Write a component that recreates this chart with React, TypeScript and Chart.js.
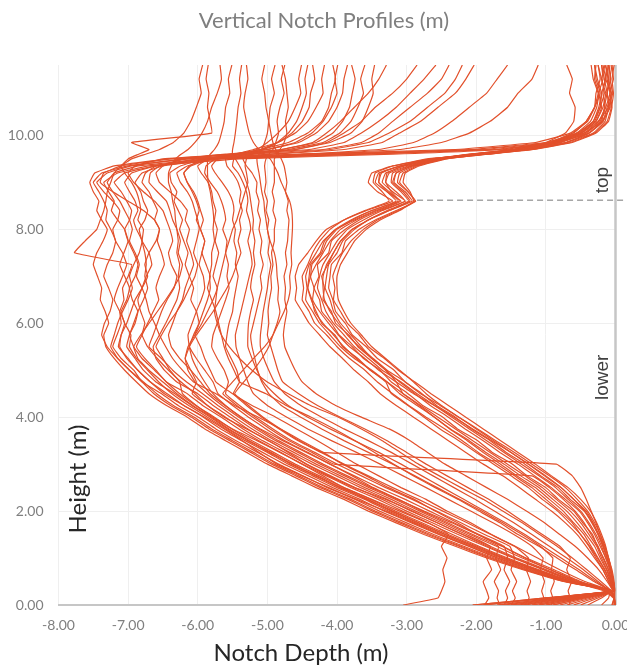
import React, { useEffect, useRef } from "react";
import { Chart, registerables } from "chart.js";

Chart.register(...registerables);

// Shared measurement heights (m), top to bottom
const HEIGHTS = [
  11.5, 11.2, 10.9, 10.6, 10.3, 10.05, 9.85, 9.7, 9.6, 9.5,
  9.35, 9.2, 9.0, 8.8, 8.6, 8.4, 8.2, 8.0, 7.75, 7.5,
  7.25, 7.0, 6.75, 6.5, 6.25, 6.0, 5.75, 5.5, 5.25, 5.0,
  4.75, 4.5, 4.25, 4.0, 3.75, 3.5, 3.25, 3.0, 2.75, 2.5,
  2.25, 2.0, 1.75, 1.5, 1.25, 1.0, 0.75, 0.5, 0.3, 0.15, 0.0,
];

// Notch depth (m) of each profile at the heights above
const A01 = [-0.25, -0.2, -0.16, -0.22, -0.32, -0.55, -1.0, -2.1, -4.2, -6.4, -7.2, -7.48, -7.55, -7.5, -7.42, -7.45, -7.38, -7.3, -7.36, -7.45, -7.5, -7.44, -7.38, -7.4, -7.33, -7.28, -7.35, -7.32, -7.2, -7.05, -6.88, -6.7, -6.45, -6.15, -5.9, -5.6, -5.3, -5.0, -4.65, -4.3, -3.9, -3.55, -3.15, -2.75, -2.3, -1.85, -1.33, -0.75, -0.06, -0.6, -1.2];
const A02 = [-0.15, -0.1, -0.12, -0.08, -0.2, -0.45, -0.95, -1.9, -3.9, -6.1, -7.0, -7.38, -7.5, -7.42, -7.35, -7.3, -7.32, -7.25, -7.18, -7.22, -7.3, -7.35, -7.28, -7.22, -7.26, -7.34, -7.38, -7.3, -7.15, -6.98, -6.78, -6.59, -6.35, -6.05, -5.8, -5.5, -5.2, -4.9, -4.55, -4.2, -3.8, -3.45, -3.06, -2.66, -2.22, -1.78, -1.28, -0.72, -0.06, -0.95, -1.9];
const A03 = [-0.3, -0.28, -0.22, -0.3, -0.42, -0.65, -1.15, -2.3, -4.5, -6.2, -6.95, -7.3, -7.45, -7.35, -7.22, -7.12, -7.15, -7.22, -7.18, -7.08, -7.02, -7.08, -7.15, -7.2, -7.12, -7.05, -7.1, -7.14, -7.0, -6.86, -6.68, -6.48, -6.2, -5.9, -5.62, -5.36, -5.12, -4.86, -4.5, -4.12, -3.72, -3.3, -2.9, -2.52, -2.1, -1.7, -1.22, -0.7, -0.06, -0.3, -0.6];
const A04 = [-0.1, -0.14, -0.06, -0.12, -0.18, -0.38, -0.85, -1.7, -3.6, -5.6, -6.7, -7.15, -7.35, -7.28, -7.2, -7.24, -7.15, -7.05, -7.0, -7.06, -7.12, -7.05, -6.98, -7.02, -7.1, -7.05, -6.96, -6.98, -6.88, -6.72, -6.56, -6.37, -6.13, -5.86, -5.6, -5.32, -5.0, -4.7, -4.35, -4.0, -3.6, -3.26, -2.87, -2.49, -2.07, -1.65, -1.17, -0.67, -0.06, -0.75, -1.5];
const A05 = [-0.7, -0.62, -0.66, -0.58, -0.6, -0.72, -1.0, -1.6, -3.2, -5.4, -6.6, -7.05, -7.2, -7.1, -7.02, -6.95, -6.98, -7.05, -7.0, -6.92, -6.86, -6.9, -6.98, -6.94, -6.86, -6.9, -6.98, -6.92, -6.8, -6.62, -6.45, -6.26, -6.03, -5.76, -5.51, -5.22, -4.91, -4.6, -4.25, -3.9, -3.51, -3.16, -2.78, -2.4, -1.99, -1.58, -1.12, -0.64, -0.16, -0.03, -0.01];
const A06 = [-1.11, -1.2, -1.4, -1.55, -1.8, -2.1, -2.5, -3.1, -4.4, -5.9, -6.6, -6.95, -7.05, -6.98, -6.9, -6.86, -6.92, -6.88, -6.8, -6.84, -6.92, -6.98, -6.94, -7.0, -7.08, -7.15, -7.2, -7.25, -7.15, -6.98, -6.8, -6.52, -6.28, -5.99, -5.74, -5.45, -5.14, -4.84, -4.49, -4.14, -3.74, -3.39, -3.0, -2.61, -2.18, -1.74, -1.25, -0.72, -0.06, -1.0, -2.05];
const A07 = [-1.55, -1.7, -1.85, -2.1, -2.35, -2.6, -2.9, -3.4, -4.5, -5.8, -6.5, -6.8, -6.9, -6.82, -6.78, -6.72, -6.76, -6.84, -6.8, -6.7, -6.66, -6.74, -6.8, -6.86, -6.82, -6.76, -6.8, -6.72, -6.58, -6.42, -6.24, -6.04, -5.86, -5.62, -5.3, -4.98, -4.7, -4.44, -4.12, -3.75, -3.3, -2.92, -2.56, -2.2, -1.84, -1.45, -1.02, -0.58, -0.14, -0.02, -0.05];
const A08 = [-2.03, -2.15, -2.3, -2.55, -2.8, -3.1, -3.35, -3.9, -4.9, -6.0, -6.6, -6.75, -6.8, -6.7, -6.64, -6.58, -6.62, -6.55, -6.6, -6.7, -6.76, -6.72, -6.8, -6.9, -6.96, -7.02, -7.1, -7.12, -7.02, -6.86, -6.68, -6.44, -6.2, -5.92, -5.67, -5.37, -5.07, -4.76, -4.41, -4.06, -3.67, -3.32, -2.93, -2.54, -2.11, -1.69, -1.2, -0.69, -0.06, -0.45, -0.9];
const A09 = [-2.39, -2.5, -2.7, -2.95, -3.2, -3.4, -3.65, -4.2, -5.3, -6.4, -7.1, -7.35, -7.4, -7.22, -7.0, -6.78, -6.62, -6.55, -6.58, -6.52, -6.48, -6.55, -6.6, -6.56, -6.64, -6.72, -6.8, -6.88, -6.76, -6.6, -6.45, -6.15, -5.93, -5.66, -5.41, -5.12, -4.81, -4.5, -4.15, -3.8, -3.41, -3.06, -2.69, -2.4, -2.5, -2.42, -2.48, -2.45, -2.5, -2.55, -3.05];
const A10 = [-2.58, -2.75, -2.95, -3.15, -3.4, -3.65, -3.9, -4.4, -5.5, -6.5, -6.9, -7.0, -6.92, -6.78, -6.62, -6.5, -6.45, -6.4, -6.36, -6.42, -6.38, -6.3, -6.34, -6.44, -6.52, -6.58, -6.64, -6.7, -6.52, -6.36, -6.16, -5.93, -5.71, -5.47, -5.22, -4.94, -4.62, -4.3, -3.95, -3.6, -3.22, -2.87, -2.5, -2.14, -1.8, -1.85, -1.78, -1.9, -1.85, -1.82, -1.88];
const A11 = [-2.85, -3.0, -3.2, -3.45, -3.65, -3.9, -4.15, -4.6, -5.5, -6.2, -6.55, -6.68, -6.7, -6.58, -6.45, -6.4, -6.36, -6.3, -6.25, -6.28, -6.22, -6.26, -6.35, -6.46, -6.58, -6.7, -6.82, -6.92, -6.86, -6.7, -6.5, -6.3, -6.07, -5.8, -5.55, -5.26, -4.95, -4.64, -4.29, -3.94, -3.55, -3.2, -2.82, -2.44, -2.02, -1.61, -1.14, -0.66, -0.06, -0.85, -1.7];
const A12 = [-3.29, -3.4, -3.55, -3.75, -3.95, -4.15, -4.35, -4.8, -5.6, -6.2, -6.5, -6.6, -6.55, -6.4, -6.25, -6.15, -6.18, -6.12, -6.16, -6.1, -6.06, -6.12, -6.18, -6.22, -6.3, -6.36, -6.42, -6.38, -6.26, -6.1, -5.96, -5.82, -5.61, -5.37, -5.12, -4.84, -4.52, -4.2, -3.85, -3.5, -3.12, -2.77, -2.41, -2.05, -1.68, -1.72, -1.65, -1.74, -1.68, -1.7, -1.66];
const A13 = [-3.46, -3.5, -3.48, -3.55, -3.64, -3.8, -4.1, -4.6, -5.2, -5.8, -6.15, -6.3, -6.25, -6.15, -6.08, -6.04, -6.0, -5.98, -6.02, -6.06, -6.0, -6.04, -6.12, -6.2, -6.3, -6.42, -6.52, -6.6, -6.5, -6.4, -6.26, -6.22, -6.02, -5.78, -5.5, -5.15, -4.82, -4.5, -4.2, -3.9, -3.5, -3.1, -2.7, -2.34, -1.96, -1.55, -1.1, -0.63, -0.06, -0.2, -0.4];
const A14 = [-3.79, -3.74, -3.78, -3.82, -3.92, -4.06, -4.3, -4.8, -5.4, -5.9, -6.12, -6.2, -6.15, -6.06, -6.0, -5.96, -5.92, -5.96, -5.9, -5.94, -5.98, -5.92, -5.9, -5.95, -6.02, -6.08, -6.14, -6.12, -6.02, -5.9, -5.78, -5.71, -5.5, -5.27, -5.02, -4.75, -4.42, -4.1, -3.75, -3.4, -3.02, -2.67, -2.32, -1.96, -1.6, -1.55, -1.6, -1.52, -1.58, -1.55, -1.6];
const A15 = [-3.85, -3.9, -3.92, -4.0, -4.12, -4.3, -4.55, -5.0, -5.5, -5.85, -6.0, -5.95, -5.85, -5.8, -5.78, -5.74, -5.76, -5.72, -5.75, -5.7, -5.74, -5.78, -5.72, -5.78, -5.86, -5.94, -6.04, -6.14, -6.18, -6.1, -6.02, -6.08, -5.86, -5.6, -5.35, -5.07, -4.75, -4.44, -4.09, -3.74, -3.35, -3.0, -2.63, -2.26, -1.87, -1.47, -1.04, -0.6, -0.06, -0.5, -1.0];
const A16 = [-3.99, -4.03, -4.0, -4.08, -4.2, -4.36, -4.6, -5.0, -5.45, -5.75, -5.88, -5.9, -5.82, -5.72, -5.66, -5.62, -5.6, -5.64, -5.58, -5.6, -5.56, -5.58, -5.55, -5.6, -5.66, -5.72, -5.78, -5.8, -5.72, -5.62, -5.56, -5.6, -5.4, -5.17, -4.92, -4.65, -4.32, -4.0, -3.65, -3.3, -2.92, -2.57, -2.22, -1.88, -1.52, -1.45, -1.5, -1.42, -1.48, -1.44, -1.5];
const A17 = [-4.06, -4.02, -4.08, -4.12, -4.22, -4.42, -4.7, -5.1, -5.5, -5.72, -5.8, -5.75, -5.65, -5.56, -5.5, -5.48, -5.5, -5.46, -5.48, -5.44, -5.46, -5.42, -5.45, -5.48, -5.5, -5.55, -5.58, -5.6, -5.52, -5.44, -5.4, -5.49, -5.3, -5.08, -4.83, -4.56, -4.23, -3.9, -3.55, -3.2, -2.83, -2.48, -2.13, -1.79, -1.45, -1.25, -1.28, -1.22, -1.27, -1.24, -1.3];
const A18 = [-4.18, -4.22, -4.2, -4.3, -4.42, -4.6, -4.85, -5.2, -5.45, -5.6, -5.58, -5.5, -5.42, -5.38, -5.4, -5.36, -5.4, -5.38, -5.42, -5.38, -5.44, -5.5, -5.58, -5.68, -5.78, -5.9, -6.02, -6.12, -6.18, -6.14, -6.04, -5.86, -5.65, -5.41, -5.16, -4.88, -4.56, -4.24, -3.89, -3.54, -3.16, -2.81, -2.45, -2.09, -1.71, -1.34, -0.93, -0.52, -0.06, -0.68, -1.35];
const A19 = [-4.35, -4.32, -4.38, -4.4, -4.5, -4.65, -4.85, -5.1, -5.35, -5.48, -5.5, -5.42, -5.35, -5.3, -5.28, -5.3, -5.26, -5.24, -5.28, -5.24, -5.22, -5.26, -5.3, -5.34, -5.38, -5.42, -5.46, -5.45, -5.4, -5.34, -5.28, -5.2, -5.0, -4.72, -4.42, -4.08, -3.72, -3.38, -3.05, -2.72, -2.4, -2.08, -1.76, -1.46, -1.2, -1.04, -1.08, -1.02, -1.06, -1.03, -1.08];
const A20 = [-4.51, -4.55, -4.52, -4.6, -4.7, -4.85, -5.0, -5.15, -5.3, -5.35, -5.3, -5.22, -5.15, -5.16, -5.12, -5.14, -5.1, -5.12, -5.08, -5.1, -5.06, -5.1, -5.08, -5.12, -5.16, -5.2, -5.24, -5.22, -5.18, -5.14, -5.08, -4.98, -4.8, -4.52, -4.22, -3.9, -3.55, -3.2, -2.88, -2.56, -2.24, -1.92, -1.62, -1.34, -1.08, -0.9, -0.92, -0.88, -0.93, -0.9, -0.92];
const A21 = [-4.75, -4.8, -4.76, -4.82, -4.86, -4.84, -4.88, -4.92, -4.98, -5.02, -5.04, -5.03, -5.02, -5.04, -5.0, -5.02, -4.98, -5.0, -4.97, -4.99, -4.95, -4.98, -5.0, -5.03, -5.06, -5.08, -5.1, -5.1, -5.05, -4.98, -4.9, -4.75, -4.52, -4.22, -3.9, -3.55, -3.22, -2.92, -2.62, -2.32, -2.02, -1.74, -1.46, -1.2, -0.95, -0.7, -0.46, -0.25, -0.08, -0.02, 0];
const A22 = [-4.79, -4.74, -4.72, -4.7, -4.74, -4.72, -4.76, -4.82, -4.86, -4.9, -4.9, -4.9, -4.9, -4.93, -4.9, -4.92, -4.88, -4.9, -4.9, -4.94, -4.92, -4.95, -4.94, -4.97, -4.99, -4.98, -5.0, -4.95, -4.9, -4.85, -4.78, -4.55, -4.28, -3.95, -3.6, -3.28, -3.0, -2.72, -2.42, -2.12, -1.82, -1.55, -1.3, -1.05, -0.8, -0.65, -0.7, -0.63, -0.68, -0.65, -0.66];
const A23 = [-4.89, -4.94, -4.9, -4.96, -4.98, -5.0, -5.04, -5.08, -5.12, -5.15, -5.14, -5.12, -5.1, -5.08, -5.05, -5.04, -5.02, -5.0, -4.96, -4.9, -4.87, -4.86, -4.84, -4.85, -4.82, -4.86, -4.92, -4.98, -5.08, -5.2, -5.34, -5.47, -5.27, -5.06, -4.81, -4.54, -4.21, -0.85, -0.62, -0.5, -0.42, -0.35, -0.28, -0.22, -0.16, -0.1, -0.06, -0.03, -0.02, -0.01, 0];
const A24 = [-5.04, -5.08, -5.04, -5.02, -4.98, -4.95, -4.92, -4.88, -4.84, -4.8, -4.76, -4.74, -4.72, -4.74, -4.7, -4.72, -4.69, -4.7, -4.71, -4.74, -4.72, -4.76, -4.74, -4.75, -4.72, -4.75, -4.77, -4.75, -4.68, -4.6, -4.5, -4.3, -4.02, -3.65, -3.25, -2.95, -2.7, -2.45, -2.15, -1.85, -1.55, -1.28, -1.02, -0.8, -0.58, -0.4, -0.24, -0.12, -0.04, -0.02, 0];
const A25 = [-5.3, -5.28, -5.32, -5.34, -5.3, -5.26, -5.2, -5.12, -5.04, -4.96, -4.9, -4.85, -4.8, -4.74, -4.68, -4.65, -4.64, -4.64, -4.65, -4.66, -4.65, -4.68, -4.67, -4.7, -4.76, -4.84, -4.92, -5.04, -5.2, -5.35, -5.5, -5.64, -5.44, -5.21, -4.96, -4.69, -4.36, -4.04, -1.2, -0.95, -0.75, -0.58, -0.45, -0.35, -0.25, -0.18, -0.1, -0.06, -0.04, -0.25, -0.5];
const A26 = [-5.37, -5.4, -5.38, -5.42, -5.44, -5.46, -5.48, -5.5, -5.5, -5.46, -5.4, -5.35, -5.3, -5.26, -5.24, -5.22, -5.2, -5.21, -5.18, -5.2, -5.18, -5.22, -5.24, -5.2, -5.24, -5.27, -5.28, -5.28, -5.22, -5.15, -5.06, -4.9, -4.7, -4.42, -4.1, -3.75, -3.4, -3.08, -2.78, -2.48, -2.18, -1.88, -1.58, -1.3, -1.04, -0.78, -0.52, -0.28, -0.08, -0.1, -0.2];
const A27 = [-5.51, -5.56, -5.54, -5.6, -5.62, -5.66, -5.7, -5.76, -5.82, -5.86, -5.86, -5.86, -5.85, -5.82, -5.8, -5.78, -5.77, -5.78, -5.76, -5.8, -5.8, -5.83, -5.82, -5.86, -5.92, -5.98, -6.06, -6.12, -6.08, -6.0, -5.9, -5.78, -5.6, -5.38, -5.1, -4.78, -4.44, -4.1, -3.78, -3.48, -3.12, -2.75, -2.35, -1.98, -1.62, -1.28, -0.88, -0.5, -0.12, -0.02, -0.02];
const A28 = [-5.68, -5.66, -5.72, -5.8, -5.86, -5.94, -6.04, -6.14, -6.24, -6.32, -6.38, -6.42, -6.42, -6.38, -6.36, -6.33, -6.32, -6.3, -6.28, -6.3, -6.26, -6.28, -6.26, -6.3, -6.38, -6.46, -6.55, -6.64, -6.6, -6.48, -6.3, -6.0, -5.78, -5.53, -5.28, -4.99, -4.68, -4.36, -4.01, -3.66, -3.28, -2.93, -2.56, -2.19, -1.8, -1.42, -0.99, -0.57, -0.06, -0.4, -0.8];
const A29 = [-5.93, -5.98, -5.95, -6.02, -6.1, -6.2, -6.35, -6.55, -6.75, -6.95, -7.1, -7.2, -7.25, -7.3, -7.32, -7.35, -7.4, -7.45, -7.62, -7.77, -6.95, -7.0, -7.08, -7.06, -7.12, -7.1, -7.16, -7.22, -7.1, -6.92, -6.8, -6.63, -6.39, -6.09, -5.84, -5.54, -5.24, -4.94, -4.59, -4.24, -3.84, -3.49, -3.1, -2.7, -2.25, -1.81, -1.3, -0.74, -0.06, -0.35, -0.7];
const A30 = [-5.85, -5.88, -5.84, -5.86, -5.82, -5.8, -6.95, -6.7, -6.85, -7.0, -7.1, -7.05, -6.95, -6.88, -6.84, -6.82, -6.86, -6.78, -6.8, -6.76, -6.74, -6.76, -6.72, -6.78, -6.86, -6.92, -6.98, -7.02, -6.9, -6.78, -6.6, -6.33, -6.09, -5.82, -5.57, -5.28, -4.97, -4.66, -4.31, -3.96, -3.57, -3.22, -2.84, -2.45, -2.04, -1.62, -1.15, -0.66, -0.06, -0.55, -1.1];
const A31 = [-3.6, -3.66, -3.62, -3.7, -3.8, -3.96, -4.2, -4.7, -5.3, -5.9, -6.25, -6.4, -6.38, -6.3, -6.34, -6.28, -6.22, -6.26, -6.2, -6.14, -6.18, -6.12, -6.06, -6.1, -6.02, -5.98, -6.04, -5.96, -5.9, -5.82, -5.74, -5.5, -5.22, -4.88, -4.58, -4.28, -4.0, -3.72, -3.4, -3.08, -2.72, -2.42, -2.08, -1.78, -1.44, -1.12, -0.8, -0.44, -0.06, -0.02, 0];
const A32 = [-0.2, -0.18, -0.24, -0.2, -0.28, -0.5, -0.9, -1.75, -3.7, -5.8, -6.85, -7.2, -7.3, -7.22, -7.12, -7.05, -6.98, -6.94, -6.98, -6.9, -6.84, -6.88, -6.8, -6.74, -6.7, -6.62, -6.55, -6.46, -6.36, -6.22, -6.06, -5.74, -5.47, -5.13, -4.81, -4.51, -4.2, -3.92, -3.58, -3.26, -2.89, -2.59, -2.27, -1.98, -1.63, -1.3, -0.94, -0.55, -0.06, -0.02, 0];
const A33 = [-4.42, -4.46, -4.44, -4.5, -4.58, -4.7, -4.86, -5.05, -5.22, -5.3, -5.32, -5.3, -5.28, -5.32, -5.36, -5.4, -5.44, -5.5, -5.55, -5.6, -5.64, -5.68, -5.72, -5.74, -5.76, -5.72, -5.66, -5.55, -5.4, -5.22, -5.0, -4.7, -4.38, -3.98, -3.65, -3.35, -3.09, -2.83, -2.53, -2.22, -1.9, -1.62, -1.34, -1.09, -0.84, -0.62, -0.41, -0.21, -0.06, -0.02, 0];
const A34 = [-2.2, -2.3, -2.45, -2.7, -2.95, -3.25, -3.55, -4.1, -5.0, -5.8, -6.1, -6.2, -6.15, -6.08, -6.02, -5.98, -6.02, -5.96, -5.9, -5.94, -5.88, -5.82, -5.86, -5.8, -5.74, -5.7, -5.66, -5.62, -5.56, -5.48, -5.4, -5.02, -4.73, -4.37, -4.04, -3.74, -3.46, -3.19, -2.9, -2.59, -2.26, -1.96, -1.66, -1.4, -1.1, -0.84, -0.57, -0.31, -0.06, -0.02, -0.01];

const B01 = [-0.05, -0.08, -0.04, -0.1, -0.15, -0.32, -0.7, -1.3, -1.95, -2.7, -3.2, -3.45, -3.48, -3.35, -3.25, -3.6, -3.9, -4.1, -4.25, -4.35, -4.42, -4.5, -4.48, -4.5, -4.4, -4.32, -4.15, -4.0, -3.82, -3.6, -3.42, -3.2, -2.97, -2.72, -2.45, -2.2, -1.97, -1.7, -1.45, -1.2, -1.0, -0.8, -0.62, -0.5, -0.38, -0.28, -0.18, -0.1, -0.04, -0.45, -0.9];
const B02 = [-0.1, -0.12, -0.08, -0.14, -0.22, -0.42, -0.78, -1.32, -1.92, -2.6, -3.08, -3.38, -3.4, -3.25, -3.12, -3.5, -3.78, -4.0, -4.15, -4.22, -4.36, -4.38, -4.42, -4.37, -4.3, -4.22, -4.03, -3.92, -3.7, -3.52, -3.28, -3.1, -2.85, -2.6, -2.37, -2.1, -1.86, -1.6, -1.36, -1.1, -0.9, -0.7, -0.55, -0.42, -0.3, -0.22, -0.13, -0.07, -0.03, -0.6, -1.2];
const B03 = [-0.2, -0.16, -0.12, -0.1, -0.25, -0.48, -0.82, -1.4, -2.0, -2.55, -2.98, -3.25, -3.3, -3.15, -3.02, -3.38, -3.68, -3.88, -4.08, -4.12, -4.28, -4.26, -4.33, -4.25, -4.22, -4.08, -3.97, -3.78, -3.62, -3.38, -3.22, -2.98, -2.77, -2.48, -2.27, -1.98, -1.77, -1.48, -1.27, -1.0, -0.82, -0.6, -0.47, -0.33, -0.26, -0.17, -0.1, -0.05, -0.02, -0.75, -1.5];
const B04 = [-0.3, -0.26, -0.2, -0.22, -0.3, -0.55, -0.9, -1.45, -2.05, -2.5, -2.92, -3.15, -3.18, -3.02, -2.92, -3.25, -3.55, -3.78, -3.95, -4.05, -4.13, -4.22, -4.18, -4.2, -4.08, -4.02, -3.83, -3.7, -3.5, -3.3, -3.1, -2.88, -2.66, -2.4, -2.16, -1.9, -1.66, -1.4, -1.16, -0.92, -0.72, -0.52, -0.4, -0.3, -0.22, -0.14, -0.08, -0.04, -0.02, -0.85, -1.7];
const B05 = [-0.02, -0.05, -0.03, -0.06, -0.12, -0.3, -0.65, -1.2, -1.85, -2.45, -2.85, -3.05, -3.1, -2.98, -2.87, -3.15, -3.45, -3.68, -3.88, -3.93, -4.08, -4.1, -4.12, -4.06, -4.02, -3.88, -3.78, -3.58, -3.42, -3.18, -3.02, -2.78, -2.57, -2.3, -2.07, -1.8, -1.57, -1.3, -1.07, -0.82, -0.65, -0.45, -0.34, -0.25, -0.18, -0.12, -0.06, -0.03, -0.01, -0.02, -0.05];
const B06 = [-0.15, -0.2, -0.14, -0.18, -0.28, -0.5, -0.85, -1.38, -2.02, -2.62, -3.1, -3.4, -3.45, -3.28, -3.08, -3.42, -3.72, -3.95, -4.1, -4.2, -4.3, -4.38, -4.33, -4.35, -4.25, -4.12, -3.98, -3.82, -3.6, -3.4, -3.15, -2.9, -2.6, -2.32, -2.05, -1.78, -1.5, -1.25, -1.0, -0.78, -0.6, -0.42, -0.32, -0.24, -0.17, -0.12, -0.07, -0.04, -0.02, -0.95, -1.9];
const B07 = [-0.25, -0.22, -0.28, -0.3, -0.4, -0.62, -0.95, -1.5, -2.1, -2.52, -2.95, -3.2, -3.22, -3.08, -2.97, -3.28, -3.55, -3.75, -3.92, -4.0, -4.12, -4.15, -4.17, -4.1, -4.05, -3.95, -3.8, -3.65, -3.5, -3.3, -3.15, -3.05, -2.82, -2.6, -2.38, -2.13, -1.9, -1.65, -1.42, -1.15, -0.95, -0.75, -0.6, -0.45, -0.35, -0.25, -0.15, -0.08, -0.03, -0.55, -1.1];
const B08 = [-0.08, -0.1, -0.06, -0.08, -0.18, -0.38, -0.72, -1.28, -1.9, -2.65, -3.2, -3.5, -3.55, -3.42, -3.2, -3.58, -3.9, -4.15, -4.3, -4.42, -4.55, -4.6, -4.58, -4.6, -4.5, -4.4, -4.25, -4.1, -3.92, -3.75, -3.55, -3.38, -3.15, -2.9, -2.65, -2.4, -2.15, -1.9, -1.62, -1.38, -1.15, -0.92, -0.72, -0.55, -0.42, -0.3, -0.18, -0.1, -0.04, -0.7, -1.4];
const B09 = [-0.35, -0.32, -0.25, -0.3, -0.42, -0.6, -0.92, -1.45, -2.08, -2.48, -2.88, -3.1, -3.13, -2.98, -2.88, -3.12, -3.42, -3.62, -3.8, -3.92, -4.0, -4.06, -4.03, -4.05, -3.95, -3.85, -3.68, -3.55, -3.32, -3.12, -2.88, -2.65, -2.4, -2.15, -1.9, -1.65, -1.4, -1.15, -0.92, -0.68, -0.5, -0.36, -0.27, -0.2, -0.14, -0.1, -0.06, -0.03, -0.01, -0.8, -1.6];
const B10 = [-0.12, -0.15, -0.18, -0.15, -0.24, -0.45, -0.8, -1.35, -1.98, -2.58, -3.03, -3.3, -3.35, -3.2, -3.02, -3.35, -3.62, -3.85, -4.0, -4.1, -4.2, -4.25, -4.28, -4.22, -4.16, -4.05, -3.9, -3.75, -3.55, -3.35, -3.08, -2.85, -2.6, -2.35, -2.1, -1.85, -1.6, -1.35, -1.1, -0.86, -0.68, -0.5, -0.38, -0.28, -0.2, -0.14, -0.08, -0.04, -0.02, -0.02, -0.02];
const B11 = [-0.18, -0.14, -0.2, -0.24, -0.32, -0.52, -0.86, -1.42, -2.0, -2.62, -3.05, -3.28, -3.3, -3.22, -3.1, -3.45, -3.75, -4.02, -4.2, -4.3, -4.4, -4.45, -4.43, -4.45, -4.35, -4.25, -4.1, -3.95, -3.75, -3.5, -3.28, -3.05, -2.8, -2.55, -2.3, -2.05, -1.8, -1.55, -1.3, -1.05, -0.85, -0.65, -0.5, -0.38, -0.27, -0.2, -0.12, -0.06, -0.02, -0.5, -1.0];
const B12 = [-0.05, -0.03, -0.08, -0.05, -0.1, -0.28, -0.62, -1.18, -1.82, -2.5, -2.92, -3.15, -3.2, -3.05, -2.95, -3.25, -3.55, -3.78, -3.95, -4.05, -4.15, -4.2, -4.2, -4.18, -4.1, -3.98, -3.85, -3.68, -3.48, -3.28, -3.02, -2.8, -2.52, -2.25, -1.98, -1.72, -1.45, -1.2, -0.95, -0.72, -0.55, -0.4, -0.3, -0.22, -0.15, -0.1, -0.05, -0.02, -0.01, -0.01, 0];
const B13 = [-0.28, -0.3, -0.24, -0.27, -0.36, -0.56, -0.9, -1.45, -2.05, -2.65, -3.1, -3.36, -3.4, -3.28, -3.15, -3.5, -3.8, -4.02, -4.18, -4.24, -4.38, -4.4, -4.42, -4.36, -4.32, -4.2, -4.05, -3.9, -3.72, -3.52, -3.3, -3.22, -2.98, -2.75, -2.52, -2.25, -2.0, -1.75, -1.5, -1.25, -1.05, -0.83, -0.66, -0.5, -0.37, -0.26, -0.16, -0.08, -0.03, -0.65, -1.3];
const B14 = [-0.1, -0.07, -0.12, -0.16, -0.2, -0.38, -0.7, -1.22, -1.88, -2.42, -2.82, -3.02, -3.05, -2.95, -2.9, -3.1, -3.38, -3.58, -3.75, -3.85, -3.95, -4.0, -4.0, -3.98, -3.9, -3.8, -3.65, -3.5, -3.3, -3.1, -2.9, -2.72, -2.5, -2.25, -2.0, -1.75, -1.5, -1.25, -1.02, -0.78, -0.6, -0.44, -0.33, -0.25, -0.18, -0.12, -0.07, -0.03, -0.01, -1.0, -2.05];

const PROFILES = [
  A01, A02, A03, A04, A05, A06, A07, A08, A09, A10,
  A11, A12, A13, A14, A15, A16, A17, A18, A19, A20,
  A21, A22, A23, A24, A25, A26, A27, A28, A29, A30,
  A31, A32, A33, A34,
  B01, B02, B03, B04, B05, B06, B07, B08, B09, B10,
  B11, B12, B13, B14,
];

const X_RANGE = [-8, 0];
const Y_RANGE = [0, 11.5];
const X_STEP = 1;
const Y_STEP = 2;
const ZONE_LABELS = ["top", "lower"];
const ZONE_LABEL_HEIGHTS = [9.05, 4.85];
const TOP_ZONE_HEIGHT = 8.62;
const TOP_ZONE_START = -2.85;

const TITLE = "Vertical Notch Profiles (m)";
const X_TITLE = "Notch Depth (m)";
const Y_TITLE = "Height (m)";

const LINE_COLOR = "#E2502B";
const W = 648;
const HGT = 668;

export default function App() {
  const ref = useRef<HTMLCanvasElement | null>(null);

  useEffect(() => {
    const canvas = ref.current;
    if (!canvas) return;

    const datasets = PROFILES.map((p, k) => ({
      label: "Profile " + (k + 1),
      data: HEIGHTS.map((h, i) => ({ x: p[i], y: h })).filter((d) => typeof d.x === "number"),
      borderColor: LINE_COLOR,
      backgroundColor: LINE_COLOR,
      borderWidth: 1.2,
      pointRadius: 0,
      pointHoverRadius: 0,
      showLine: true,
      tension: 0.1,
      fill: false,
    }));

    const overlay = {
      id: "overlay",
      beforeDatasetsDraw(chart: any) {
        const { ctx, chartArea, scales } = chart;
        const x0 = scales.x.getPixelForValue(0);
        ctx.save();
        ctx.strokeStyle = "#c6c6c6";
        ctx.lineWidth = 2.5;
        ctx.beginPath();
        ctx.moveTo(x0, chartArea.top);
        ctx.lineTo(x0, chartArea.bottom);
        ctx.stroke();
        ctx.restore();
      },
      afterDatasetsDraw(chart: any) {
        const { ctx, scales } = chart;
        const yy = scales.y.getPixelForValue(TOP_ZONE_HEIGHT);
        const xs = scales.x.getPixelForValue(TOP_ZONE_START);
        ctx.save();
        ctx.strokeStyle = "#a6a6a6";
        ctx.lineWidth = 1.5;
        ctx.setLineDash([6, 4]);
        ctx.beginPath();
        ctx.moveTo(xs, yy);
        ctx.lineTo(chart.width, yy);
        ctx.stroke();
        ctx.restore();
      },
      afterDraw(chart: any) {
        const { ctx, scales } = chart;
        ctx.save();
        ctx.textAlign = "center";
        ctx.textBaseline = "middle";
        ctx.fillStyle = "#7f7f7f";
        ctx.font = "22px Lato";
        ctx.fillText(TITLE, 324, 21);

        ctx.fillStyle = "#262626";
        ctx.font = "24px Lato";
        ctx.fillText(X_TITLE, 301, 653);

        ctx.save();
        ctx.translate(78, 479);
        ctx.rotate(-Math.PI / 2);
        ctx.fillText(Y_TITLE, 0, 0);
        ctx.restore();

        ctx.fillStyle = "#404040";
        ctx.font = '19px "Liberation Sans"';
        const xl = scales.x.getPixelForValue(0) - 13;
        ZONE_LABELS.forEach((t, i) => {
          const yl = scales.y.getPixelForValue(ZONE_LABEL_HEIGHTS[i]);
          ctx.save();
          ctx.translate(xl, yl);
          ctx.rotate(-Math.PI / 2);
          ctx.fillText(t, 0, 0);
          ctx.restore();
        });
        ctx.restore();
      },
    };

    const chart = new Chart(canvas, {
      type: "scatter",
      data: { datasets },
      options: {
        animation: false,
        responsive: false,
        maintainAspectRatio: false,
        layout: { padding: { top: 65, right: 32.5, left: 0, bottom: 0 } },
        plugins: {
          legend: { display: false },
          tooltip: { enabled: false },
          title: { display: false },
        },
        scales: {
          x: {
            type: "linear",
            min: X_RANGE[0],
            max: X_RANGE[1],
            ticks: {
              stepSize: X_STEP,
              includeBounds: false,
              maxRotation: 0,
              autoSkip: false,
              padding: 12,
              color: "#7f7f7f",
              font: { family: "Lato", size: 14 },
              callback: (v: any) => Number(v).toFixed(2),
            },
            grid: { color: "#efefef", lineWidth: 1, drawTicks: false },
            border: { display: true, color: "#c6c6c6", width: 2 },
            afterFit: (s: any) => {
              s.height = 63;
            },
          },
          y: {
            type: "linear",
            min: Y_RANGE[0],
            max: Y_RANGE[1],
            ticks: {
              stepSize: Y_STEP,
              includeBounds: false,
              autoSkip: false,
              padding: 15,
              color: "#7f7f7f",
              font: { family: "Lato", size: 14 },
              callback: (v: any) => Number(v).toFixed(2),
            },
            grid: { color: "#efefef", lineWidth: 1, drawTicks: false },
            border: { display: false },
            afterFit: (s: any) => {
              s.width = 58.5;
            },
          },
        },
      },
      plugins: [overlay],
    } as any);

    return () => chart.destroy();
  }, []);

  return (
    <div
      style={{
        position: "fixed",
        left: 0,
        top: 0,
        width: 627,
        height: 668,
        overflow: "hidden",
        background: "#ffffff",
      }}
    >
      <canvas ref={ref} width={W} height={HGT} style={{ display: "block", width: W, height: HGT }} />
    </div>
  );
}
